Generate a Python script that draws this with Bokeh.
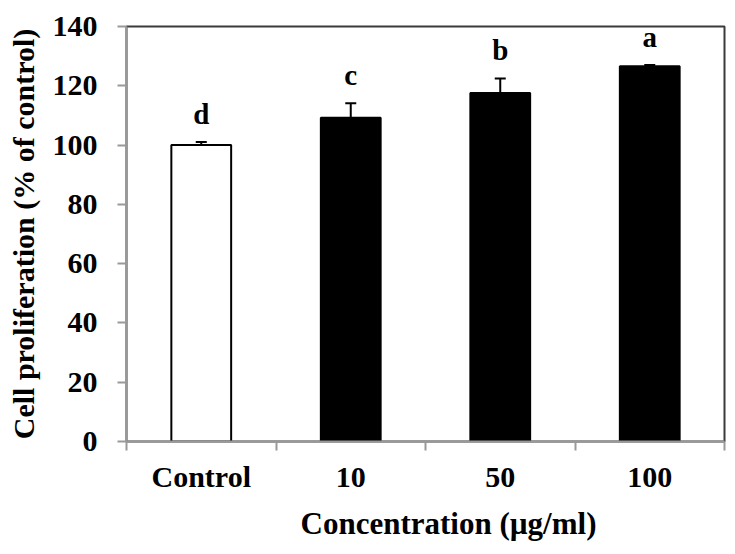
from bokeh.plotting import figure
from bokeh.models import ColumnDataSource, Range1d, FixedTicker, Whisker, TeeHead, Title
from bokeh.core.properties import value
from bokeh.embed import file_html
from bokeh.resources import INLINE

categories = ["Control", "10", "50", "100"]
means = [100.0, 109.2, 117.6, 126.6]
errors = [1.0, 4.9, 4.9, 0.4]
letters = ["d", "c", "b", "a"]
y_ticks = [0, 20, 40, 60, 80, 100, 120, 140]
x_title = "Concentration (µg/ml)"
y_title = "Cell proliferation (% of control)"

FONT = "Liberation Serif"
n = len(categories)
xs = [i + 0.5 for i in range(n)]
tops = [m + e for m, e in zip(means, errors)]
fills = ["white" if c == "Control" else "black" for c in categories]

src = ColumnDataSource(dict(x=xs, mean=means, top=tops, letter=letters, fill=fills))

p = figure(width=733, height=552, output_backend="svg", toolbar_location=None,
           x_range=Range1d(0, n), y_range=Range1d(0, 140),
           min_border_left=126, min_border_right=9, min_border_top=26, min_border_bottom=110)
p.background_fill_color = "white"
p.border_fill_color = "white"
p.outline_line_color = "#3a3a3a"
p.outline_line_width = 2
p.xgrid.visible = False
p.ygrid.visible = False

p.vbar(x="x", top="mean", bottom=0, width=0.4, source=src,
       fill_color="fill", line_color="black", line_width=2)

w = Whisker(base="x", lower="mean", upper="top", source=src, dimension="height",
            line_color="black", line_width=2,
            upper_head=TeeHead(size=11, line_color="black", line_width=2),
            lower_head=None)
p.add_layout(w)

p.text(x="x", y="top", text="letter", source=src, text_font=value(FONT),
       text_font_style="bold", text_font_size="29px", text_align="center",
       text_baseline="bottom", y_offset=-12, text_color="black")

# axes
xa = p.xaxis[0]
xa.ticker = FixedTicker(ticks=xs, minor_ticks=list(range(n + 1)))
xa.major_label_overrides = {x: c for x, c in zip(xs, categories)}
xa.major_tick_out = 0
xa.major_tick_in = 0
xa.minor_tick_out = 9
xa.minor_tick_in = 0
xa.minor_tick_line_color = "#999999"
xa.minor_tick_line_width = 2
xa.axis_line_color = "#999999"
xa.axis_line_width = 2
xa.major_label_text_font = FONT
xa.major_label_text_font_style = "bold"
xa.major_label_text_font_size = "30px"
xa.major_label_text_color = "black"
xa.major_label_standoff = 9

p.add_layout(Title(text=x_title, align="left", offset=174, vertical_align="top",
                   standoff=20, text_font=FONT, text_font_style="bold",
                   text_font_size="31px", text_color="black"), "below")

ya = p.yaxis[0]
ya.ticker = FixedTicker(ticks=y_ticks, minor_ticks=[])
ya.major_tick_out = 9
ya.major_tick_in = 0
ya.major_tick_line_color = "#999999"
ya.major_tick_line_width = 2
ya.axis_line_color = "#999999"
ya.axis_line_width = 2
ya.major_label_text_font = FONT
ya.major_label_text_font_style = "bold"
ya.major_label_text_font_size = "30px"
ya.major_label_text_color = "black"
ya.major_label_standoff = 20
ya.axis_label = y_title
ya.axis_label_text_font = FONT
ya.axis_label_text_font_style = "bold"
ya.axis_label_text_font_size = "30px"
ya.axis_label_text_color = "black"
ya.axis_label_standoff = 10

open("out.html", "w").write(file_html(p, INLINE))
